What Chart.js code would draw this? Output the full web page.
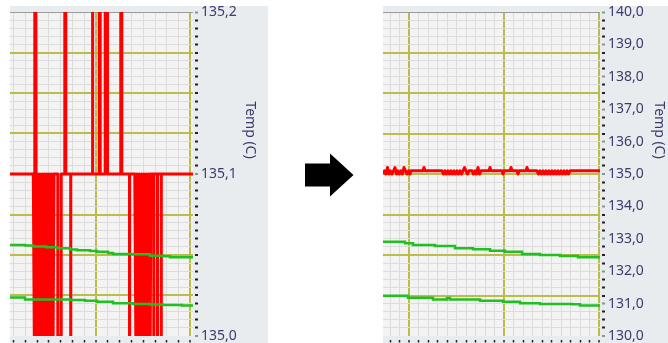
<!DOCTYPE html>
<html>
<head>
<meta charset="utf-8">
<script src="https://cdn.jsdelivr.net/npm/chart.js@4.4.1/dist/chart.umd.min.js"></script>
<style>
  html, body { margin: 0; padding: 0; background: #fff; }
  body { width: 668px; height: 343px; position: relative; overflow: hidden; font-family: "Noto Sans", sans-serif; }
  .panel { position: absolute; top: 6px; height: 337px; background: #e9ecef; }
  #p-left { left: 10px; width: 258px; }
  #p-right { left: 383px; width: 285px; }
  .panel canvas { position: absolute; left: 0; top: 0; }
  .ytitle { position: absolute; writing-mode: vertical-rl; font-size: 14px; color: #3b3b6e;
            transform: translate(-50%, -50%); white-space: nowrap; }
  #arrow { position: absolute; left: 0; top: 0; }
</style>
</head>
<body>
<div class="panel" id="p-left">
  <canvas id="chart-left" width="258" height="337"></canvas>
  <div class="ytitle" style="left:241px;top:124px;">Temp (C)</div>
</div>
<svg id="arrow" width="668" height="343" viewBox="0 0 668 343">
  <polygon points="305,163.5 330,163.5 330,153.5 353.5,175 330,196.5 330,186.5 305,186.5" fill="#000"/>
</svg>
<div class="panel" id="p-right">
  <canvas id="chart-right" width="285" height="337"></canvas>
  <div class="ytitle" style="left:277px;top:124px;">Temp (C)</div>
</div>

<script>
/* ---------- données lues sur la capture ---------- */
// axe des temps (unités arbitraires)
const LEFT_TIME = [0, 183];
const RIGHT_TIME = [0, 217];

// graduations en Y
const LEFT_Y_RANGE = [135.0, 135.2];
const LEFT_Y_LABELS = [135.0, 135.1, 135.2];
const RIGHT_Y_RANGE = [130.0, 140.0];
const RIGHT_Y_LABELS = [130, 131, 132, 133, 134, 135, 136, 137, 138, 139, 140];
const GREEN_Y_RANGE = [130.0, 140.0];

// courbe rouge, vue zoomée (résolution du capteur 0,1)
const LEFT_RED = [
  [0, 135.1],
  [23.3, 135.1], [24.3, 135.0], [24.8, 135.2], [25.8, 135.2],
  [26.3, 135.0], [27.5, 135.1], [28.7, 135.0], [29.9, 135.1], [31.1, 135.0], [32.3, 135.1],
  [33.5, 135.0], [34.7, 135.1], [35.9, 135.0], [37.1, 135.1], [38.3, 135.0], [39.5, 135.1],
  [40.7, 135.0], [41.9, 135.1], [43.1, 135.0], [44.0, 135.1],
  [47.8, 135.1], [47.8, 135.0], [51.2, 135.0], [51.2, 135.1],
  [54.8, 135.1], [54.8, 135.2], [55.8, 135.2], [55.8, 135.1],
  [60.7, 135.1], [60.7, 135.0], [60.7, 135.1],
  [82.2, 135.1], [82.2, 135.2], [82.8, 135.2], [82.8, 135.1],
  [89.2, 135.1], [89.2, 135.2], [90.2, 135.2], [90.2, 135.1],
  [95.2, 135.1], [95.2, 135.2], [97.5, 135.2], [97.5, 135.1],
  [110.8, 135.1], [110.8, 135.2], [111.8, 135.2], [111.8, 135.1],
  [119.5, 135.1], [119.5, 135.0], [119.5, 135.1],
  [124.8, 135.1], [125.8, 135.0], [127.0, 135.1], [128.2, 135.0], [129.4, 135.1], [130.6, 135.0],
  [131.8, 135.1], [133.0, 135.0], [134.2, 135.1], [135.4, 135.0], [136.6, 135.1], [137.8, 135.0],
  [139.0, 135.1], [140.2, 135.0], [141.0, 135.1],
  [143.8, 135.1], [143.8, 135.0], [143.8, 135.1],
  [147.5, 135.1], [147.5, 135.0], [147.5, 135.1],
  [151.3, 135.1], [151.3, 135.0], [151.3, 135.1],
  [183, 135.1]
];

// courbes vertes (autre axe, identique dans les deux vues)
const LEFT_GREEN_HIGH = [
  [0, 132.81], [15, 132.79], [23, 132.76], [36, 132.74], [47, 132.71], [60, 132.67], [67, 132.65],
  [80, 132.62], [87, 132.60], [98, 132.56], [103, 132.53], [123, 132.52], [140, 132.48],
  [153, 132.46], [160, 132.43], [183, 132.43]
];
const LEFT_GREEN_LOW = [
  [0, 131.19], [15, 131.13], [45, 131.13], [60, 131.11], [75, 131.09], [87, 131.06], [103, 131.01],
  [123, 130.99], [140, 130.97], [153, 130.96], [172, 130.94], [183, 130.94]
];

// vue d'ensemble
const RIGHT_RED = [
  [0, 135.0], [1.5, 135.1], [3, 135.0], [4.5, 135.2], [6, 135.0], [7.5, 135.1], [9, 135.0],
  [10.5, 135.1], [12, 135.2], [13.5, 135.0], [15, 135.1], [16.5, 135.0], [18, 135.1], [19.5, 135.0],
  [21, 135.2], [22.5, 135.1], [24, 135.0], [25.5, 135.1], [27, 135.0], [28, 135.1],
  [40, 135.1], [41, 135.2], [42, 135.1],
  [59, 135.1], [60.5, 135.0], [62, 135.1], [63.5, 135.0], [65, 135.1], [66.5, 135.0], [68, 135.1],
  [69.5, 135.0], [71, 135.1], [72.5, 135.0], [74, 135.1], [75.5, 135.0], [77, 135.1], [78.5, 135.0],
  [80, 135.1], [81.5, 135.2], [83, 135.1], [84.5, 135.0], [86, 135.1],
  [89, 135.1], [90.5, 135.0], [92, 135.1], [93.5, 135.0], [95, 135.2], [96.5, 135.0], [98, 135.1],
  [106, 135.1], [107, 135.2], [108, 135.1],
  [119, 135.1], [120, 135.0], [121, 135.1],
  [127, 135.1], [128, 135.2], [129, 135.1],
  [134, 135.1], [135, 135.0], [136, 135.1],
  [143, 135.1], [144, 135.2], [145, 135.1],
  [154, 135.1], [155.5, 135.0], [157, 135.1], [158.5, 135.0], [160, 135.1], [161.5, 135.0],
  [163, 135.1], [164.5, 135.0], [166, 135.1], [167.5, 135.0], [169, 135.1], [170.5, 135.0],
  [172, 135.1], [173.5, 135.0], [175, 135.1], [176.5, 135.0], [178, 135.1], [179.5, 135.0],
  [181, 135.1], [182.5, 135.0], [184, 135.1], [185.5, 135.0], [187, 135.1],
  [217, 135.1]
];
const RIGHT_GREEN_HIGH = [
  [0, 132.91], [22, 132.86], [30, 132.81], [52, 132.78], [72, 132.71], [90, 132.68], [107, 132.63],
  [122, 132.60], [139, 132.53], [157, 132.50], [177, 132.47], [195, 132.43], [217, 132.43]
];
const RIGHT_GREEN_LOW = [
  [0, 131.24], [25, 131.18], [50, 131.13], [64, 131.17], [67, 131.13], [97, 131.09], [120, 131.06],
  [137, 131.01], [157, 130.99], [189, 130.98], [197, 130.94], [217, 130.94]
];

/* ---------- style ---------- */
const RED = '#ff0000';
const GREEN = '#1fc01f';
const OLIVE = '#bcbc4a';
const MINOR = '#dcdcdc';
const FRAME = '#9c9c9c';
const LABEL = '#3b3b6e';

const plotBg = {
  id: 'plotBg',
  beforeDraw(chart) {
    const { ctx, chartArea: a } = chart;
    ctx.save();
    ctx.fillStyle = '#f3f3f3';
    ctx.fillRect(a.left, a.top, a.right - a.left, a.bottom - a.top);
    ctx.restore();
  }
};

function gridTicks(min, max, origin, step) {
  const out = [];
  let k = Math.ceil((min - origin) / step - 1e-6);
  for (let v = origin + k * step; v <= max + 1e-6; k++, v = origin + k * step) out.push(k);
  return out;
}

function makeChart(id, o) {
  const yMinor = (o.yRange[1] - o.yRange[0]) / 40;
  const isLabel = v => o.yLabels.some(l => Math.abs(l - v) < yMinor / 10);
  const fmt = v => v.toFixed(1).replace('.', ',');

  new Chart(document.getElementById(id), {
    type: 'line',
    data: {
      datasets: [
        { data: o.greenHigh, yAxisID: 'yg', borderColor: GREEN, borderWidth: 2.5, stepped: true },
        { data: o.greenLow, yAxisID: 'yg', borderColor: GREEN, borderWidth: 2.5, stepped: true },
        { data: o.red, yAxisID: 'y', borderColor: RED, borderWidth: 3, borderJoinStyle: 'round' }
      ]
    },
    options: {
      responsive: false, animation: false, devicePixelRatio: 1,
      layout: { padding: { top: 6, left: 0, right: 0, bottom: 0 }, autoPadding: false },
      elements: { point: { radius: 0, hoverRadius: 0 }, line: { tension: 0 } },
      datasets: { line: { clip: 0 } },
      plugins: { legend: { display: false }, tooltip: { enabled: false } },
      events: [],
      scales: {
        x: {
          type: 'linear', position: 'bottom', min: o.time[0], max: o.time[1],
          afterBuildTicks: s => {
            s.ticks = gridTicks(o.time[0], o.time[1], o.xOrigin, o.xStep)
              .map(k => ({ value: o.xOrigin + k * o.xStep, k }));
          },
          afterFit: s => { s.height = 7; s.paddingLeft = 0; s.paddingRight = 0; },
          ticks: { display: false, autoSkip: false },
          border: { display: false },
          grid: {
            color: c => (c.tick && c.tick.k % o.xPer === 0) ? OLIVE : MINOR,
            lineWidth: c => (c.tick && c.tick.k % o.xPer === 0) ? 2 : 1,
            tickColor: '#222', tickWidth: 1.5, tickLength: 7,
            tickBorderDash: [2.5, 50], tickBorderDashOffset: -4
          }
        },
        y: {
          type: 'linear', position: 'right', min: o.yRange[0], max: o.yRange[1],
          afterBuildTicks: s => {
            const t = [];
            for (let i = 0; i <= 40; i++) t.push({ value: o.yRange[0] + i * yMinor, i });
            s.ticks = t;
          },
          afterFit: s => { s.width = o.axisWidth; s.paddingTop = 0; s.paddingBottom = 0; },
          ticks: {
            autoSkip: false, padding: 2, color: LABEL,
            font: { family: "'Noto Sans', sans-serif", size: 14 },
            callback: v => isLabel(v) ? fmt(v) : ''
          },
          border: { display: false },
          grid: {
            color: c => {
              const i = c.tick ? c.tick.i : c.index;
              if (i === 40) return FRAME;
              if (i === 0) return 'rgba(0,0,0,0)';
              return i % 5 === 0 ? OLIVE : MINOR;
            },
            lineWidth: c => {
              const i = c.tick ? c.tick.i : c.index;
              return (i % 5 === 0 && i !== 40) ? 2 : 1;
            },
            tickColor: c => (c.tick && isLabel(c.tick.value)) ? '#7f9a86' : '#222',
            tickWidth: 2, tickLength: 6,
            tickBorderDash: [3, 50], tickBorderDashOffset: -2
          }
        },
        yg: { type: 'linear', display: false, min: GREEN_Y_RANGE[0], max: GREEN_Y_RANGE[1] }
      }
    },
    plugins: [plotBg]
  });
}

makeChart('chart-left', {
  time: LEFT_TIME, xOrigin: 86, xStep: 11.8, xPer: 8,
  yRange: LEFT_Y_RANGE, yLabels: LEFT_Y_LABELS, axisWidth: 75,
  red: LEFT_RED, greenHigh: LEFT_GREEN_HIGH, greenLow: LEFT_GREEN_LOW
});

makeChart('chart-right', {
  time: RIGHT_TIME, xOrigin: 26, xStep: 9.5, xPer: 10,
  yRange: RIGHT_Y_RANGE, yLabels: RIGHT_Y_LABELS, axisWidth: 68,
  red: RIGHT_RED, greenHigh: RIGHT_GREEN_HIGH, greenLow: RIGHT_GREEN_LOW
});
</script>
</body>
</html>
